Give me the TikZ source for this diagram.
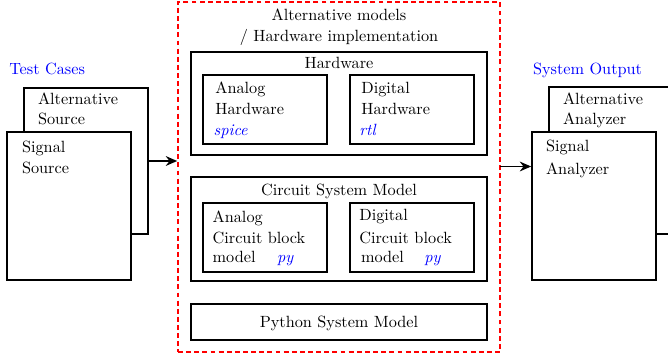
\documentclass[tikz,border=0pt]{standalone}
\usetikzlibrary{fit,arrows.meta}
\begin{document}
\begin{tikzpicture}[x=0.615pt,y=-0.615pt,
  box/.style={draw=black,line width=1pt,fill=white,inner sep=0pt},
  frame/.style={draw=red,line width=1pt,dash pattern=on 3pt off 2pt,inner sep=0pt},
  txt/.style={anchor=base west,inner sep=0pt,font=\normalsize},
  ctxt/.style={anchor=base,inner sep=0pt,font=\normalsize},
  tag/.style={anchor=base west,inner sep=0pt,text=blue,font=\normalsize\itshape},
  head/.style={anchor=base west,inner sep=0pt,text=blue},
  arr/.style={-{Stealth[length=7pt,width=6pt]},line width=1pt}]
\useasboundingbox (0,0) rectangle (668,355);
\clip (0,0) rectangle (668,355);

% ---- test cases (sources) ----
\node[head] (tc) at (9,75) {Test Cases};
\node[box,fit={(24,88) (148,234)}] (altsrc) {};
\node[txt] (altsrcA) at (37.7,105) {Alternative};
\node[txt] (altsrcB) at (37.7,125) {Source};
\node[box,fit={(7,132) (131,280)}] (sigsrc) {};
\node[txt] (sigsrcA) at (21.7,152) {Signal};
\node[txt] (sigsrcB) at (21.7,173) {Source};

% ---- system output (analyzers) ----
\node[head] (so) at (532.7,75) {System Output};
\node[box,fit={(549,87) (680,234)}] (altana) {};
\node[txt] (altanaA) at (562.7,105) {Alternative};
\node[txt] (altanaB) at (562.7,124) {Analyzer};
\node[box,fit={(532,132) (656,280)}] (sigana) {};
\node[txt] (siganaA) at (545.7,151.7) {Signal};
\node[txt] (siganaB) at (545.7,175) {Analyzer};

% ---- model alternatives ----
\node[frame,fit={(178,2) (500,352)}] (frame) {};
\node[ctxt] (titleA) at (339,21) {Alternative models};
\node[ctxt] (titleB) at (339,41.7) {/ Hardware implementation};

% hardware
\node[box,fit={(191,52) (487,155)}] (hw) {};
\node[ctxt] (hwlbl) at (339,68.3) {Hardware};
\node[box,fit={(203,75) (327,144)}] (anahw) {};
\node[txt] (anahwA) at (215,93.3) {Analog};
\node[txt] (anahwB) at (215,114) {Hardware};
\node[tag] (spice) at (213.3,135) {spice};
\node[box,fit={(350,75) (474,144)}] (dighw) {};
\node[txt] (dighwA) at (361,93.3) {Digital};
\node[txt] (dighwB) at (361,114) {Hardware};
\node[tag] (rtl) at (359,135) {rtl};

% circuit system model
\node[box,fit={(191,177) (487,281)}] (csm) {};
\node[ctxt] (csmlbl) at (339,195) {Circuit System Model};
\node[box,fit={(203,203) (327,272)}] (anacb) {};
\node[txt] (anacbA) at (212.3,222.3) {Analog};
\node[txt] (anacbB) at (212.3,243.3) {Circuit block};
\node[txt] (anacbC) at (212.3,262.3) {model};
\node[tag] (pyA) at (276.7,262.3) {py};
\node[box,fit={(350,203) (474,272)}] (digcb) {};
\node[txt] (digcbA) at (359,220.7) {Digital};
\node[txt] (digcbB) at (359,243) {Circuit block};
\node[txt] (digcbC) at (360.7,262.3) {model};
\node[tag] (pyB) at (424,262.3) {py};

% python system model
\node[box,fit={(191,304) (487,340)}] (pysm) {};
\node[ctxt] (pysmlbl) at (339,327.3) {Python System Model};

% ---- connectors ----
\draw[arr] (altsrc.east) -- (altsrc.east -| frame.west);
\coordinate (outtap) at (500,166.5);
\draw[arr] (outtap) -- (outtap -| sigana.west);
\end{tikzpicture}
\end{document}
